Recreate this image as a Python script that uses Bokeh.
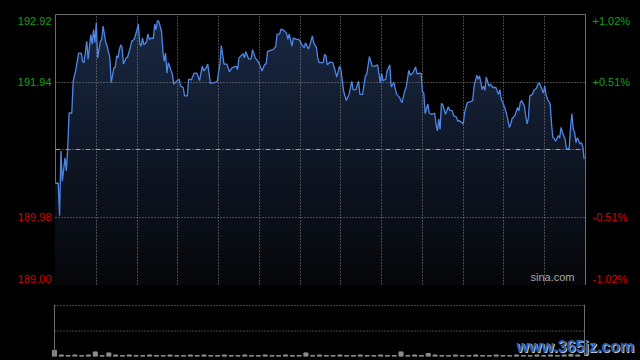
import numpy as np
from bokeh.plotting import figure
from bokeh.models import Range1d, Grid, FixedTicker, Span, ColumnDataSource
from bokeh.layouts import column, row
from bokeh.core.properties import value
from bokeh.embed import file_html
from bokeh.resources import INLINE

# ---------------- data ----------------
session_len = 390  # minutes, 9:30-16:00
prev_close = 190.96
price_ticks = [192.92, 191.94, 189.98, 189.00]
price_labels = ["192.92", "191.94", "189.98", "189.00"]
pct_labels = ["+1.02%", "+0.51%", "-0.51%", "-1.02%"]
half_hours = [30, 60, 90, 120, 150, 180, 210, 240, 270, 300, 330, 360]

times = [0, 2, 3, 4, 5, 7, 8, 9, 10, 12, 13, 15, 17, 19, 20, 21, 23, 24, 26, 27,
         28, 29, 30, 31, 33, 34, 35, 37, 38, 40, 41, 43, 44, 45, 46, 47, 48, 49, 50, 52,
         53, 55, 56, 58, 59, 61, 62, 63, 64, 65, 67, 68, 69, 71, 72, 73, 74, 75, 76, 78,
         79, 80, 81, 82, 83, 84, 86, 87, 89, 91, 92, 94, 95, 97, 98, 100,
         102, 104, 106, 108, 109, 111, 112, 114, 117, 119, 121, 122, 124, 126, 128, 130,
         133, 134, 135, 138, 139, 140, 142, 143, 144, 145, 147, 149, 150, 152, 154, 155,
         156, 158, 160, 162, 163, 165, 166, 168, 170, 171, 172, 174, 175, 177, 179, 180,
         182, 183, 184, 186, 187, 189, 190, 192, 193, 194, 197, 198,
         199, 200, 202, 204, 205, 207, 209, 210, 212, 214, 216, 218, 219, 221, 223, 224,
         226, 228, 229, 231, 233, 235, 237, 239, 240, 241, 243, 244, 246, 247, 249, 251,
         253, 255, 257, 258, 260, 261, 263, 265, 266, 269, 270, 271, 272, 274, 275, 277,
         279, 280, 281, 282, 283, 284, 285, 287, 289, 290, 292, 293, 295, 296,
         297, 299, 300, 301, 303, 305, 307, 308, 310, 311, 312, 314, 315, 316, 317, 319,
         320, 322, 324, 326, 327, 328, 329, 331, 332, 334, 335, 336, 338, 340, 341, 342,
         343, 345, 346, 347, 348, 349, 351, 352, 354, 355, 356, 358, 359, 360, 361, 362,
         364, 365, 366, 367, 368, 370, 371, 372, 373, 375, 376, 378, 379, 380, 381, 382,
         383, 384, 386, 387, 388, 389]

prices = [190.47, 190.47, 190.00, 190.94, 190.50, 190.84, 190.65, 190.99, 191.49, 191.49,
          191.95, 192.12, 192.36, 192.36, 192.24, 192.22, 192.53, 192.27, 192.63, 192.49,
          192.70, 192.51, 192.80, 192.29, 192.53, 192.56, 192.75, 192.51, 192.46, 192.29,
          191.93, 192.15, 192.15, 192.32, 192.29, 192.41, 192.48, 192.44, 192.20, 192.29,
          192.30, 192.44, 192.53, 192.56, 192.63, 192.78, 192.49, 192.46, 192.58, 192.48,
          192.52, 192.64, 192.56, 192.58, 192.57, 192.78, 192.70, 192.83, 192.82, 192.68,
          192.39, 192.24, 192.36, 192.07, 192.22, 192.17, 192.05, 191.91, 191.95, 191.98,
          191.88, 191.86, 191.74, 191.74, 191.98, 191.97,
          192.07, 192.07, 191.96, 192.17, 192.10, 192.15, 192.20, 191.92, 191.93, 191.95,
          192.20, 192.47, 192.20, 192.20, 192.09, 192.15, 192.17, 192.12, 192.29, 192.35,
          192.29, 192.38, 192.28, 192.27, 192.28, 192.41, 192.29, 192.24, 192.20, 192.10,
          192.20, 192.20, 192.38, 192.40, 192.41, 192.45, 192.63, 192.64, 192.71, 192.69,
          192.65, 192.56, 192.64, 192.46, 192.58, 192.56, 192.56, 192.53, 192.46, 192.44,
          192.51, 192.42, 192.46, 192.61, 192.51, 192.44, 192.29, 192.22, 192.22, 192.34,
          192.32, 192.19, 192.23, 192.22, 192.16, 192.01, 192.17, 192.12, 191.81, 191.67,
          191.76, 191.95, 191.83, 191.83, 191.95, 191.76, 191.76, 192.03, 192.05, 192.31,
          192.17, 192.17, 192.19, 191.93, 192.07, 191.96, 191.98, 192.10, 192.19, 191.87,
          191.93, 191.76, 191.72, 191.64, 191.81, 191.86, 192.11, 192.04, 192.07, 192.16,
          192.06, 192.07, 191.80, 191.78, 191.48, 191.62, 191.49, 191.47, 191.49, 191.33,
          191.23, 191.40, 191.25, 191.63, 191.61, 191.47, 191.58, 191.53, 191.52, 191.45,
          191.43, 191.37,
          191.38, 191.35, 191.33, 191.49, 191.64, 191.65, 191.67, 191.88, 192.04, 191.98,
          192.03, 191.83, 191.88, 191.82, 192.01, 191.88, 191.91, 191.86, 191.86, 191.76,
          191.83, 191.69, 191.65, 191.54, 191.47, 191.28, 191.33, 191.41, 191.45, 191.57,
          191.52, 191.64, 191.67, 191.59, 191.45, 191.33, 191.42, 191.74, 191.76, 191.82,
          191.85, 191.91, 191.93, 191.83, 191.78, 191.88, 191.76, 191.69, 191.62, 191.33,
          191.13, 191.12, 191.08, 191.16, 191.13, 191.28, 191.21, 191.11, 190.96, 190.98,
          191.28, 191.48, 191.25, 191.21, 191.06, 191.13, 191.04, 191.06, 191.00, 190.82]

vol_times = list(range(0, 390, 5))
vols = [12, 3, 2, 3, 2, 3, 9, 2, 7, 3,
        2, 3, 2, 2, 3, 2, 2, 3, 2, 2,
        3, 2, 3, 2, 2, 3, 2, 2, 3, 2,
        2, 3, 2, 2, 3, 2, 2, 7, 2, 3,
        2, 2, 3, 2, 2, 3, 2, 2, 3, 2,
        2, 9, 2, 3, 2, 6, 3, 2, 2, 3,
        2, 2, 3, 2, 2, 3, 2, 2, 3, 2,
        2, 3, 2, 3, 2, 3, 4, 3]
vol_max = 100

# ---------------- styles ----------------
FONT = "Liberation Sans"
GREEN = "#12a312"
RED = "#d80000"
GRID_C = "#8a8a8a"
FRAME_C = "#6e6e6e"
BG = "#000000"

LEFT_W, FRAME_W, RIGHT_W = 54, 530, 56
TOP_H, MAIN_H = 14, 290

y_top, y_bot = price_ticks[0], price_ticks[-1]
common = dict(output_backend="svg", toolbar_location=None,
              x_axis_type=None, y_axis_type=None,
              background_fill_color=BG, border_fill_color=BG)

# ---------------- main price panel ----------------
p = figure(width=FRAME_W + 2, height=MAIN_H,
           x_range=Range1d(0, session_len), y_range=Range1d(y_bot, y_top),
           min_border_left=1, min_border_right=1, min_border_top=TOP_H, min_border_bottom=6,
           outline_line_color=FRAME_C, outline_line_width=1, **common)

def mix(c1, c2, t):
    a = [int(c1[i:i + 2], 16) for i in (1, 3, 5)]
    b = [int(c2[i:i + 2], 16) for i in (1, 3, 5)]
    return "#%02x%02x%02x" % tuple(int(round(a[k] + (b[k] - a[k]) * t)) for k in range(3))

pr = np.array(prices)
n_bands = 40
levels = np.linspace(y_top, y_bot, n_bands, endpoint=False)
for i, L in enumerate(levels):
    col = mix("#192843", "#06070a", i / (n_bands - 1))
    p.varea(x=times, y1=y_bot, y2=np.minimum(pr, L), fill_color=col, fill_alpha=1.0)

vg = Grid(dimension=0, ticker=FixedTicker(ticks=half_hours),
          grid_line_color=GRID_C, grid_line_dash="1 2", grid_line_width=1)
hg = Grid(dimension=1, ticker=FixedTicker(ticks=[price_ticks[1], price_ticks[2]]),
          grid_line_color=GRID_C, grid_line_dash="1 2", grid_line_width=1)
pcg = Grid(dimension=1, ticker=FixedTicker(ticks=[prev_close]),
           grid_line_color="#9c9c9c", grid_line_dash="5 2 1 2", grid_line_width=1)
for g in (vg, hg, pcg):
    g.level = "annotation"
    p.add_layout(g)

p.line(times, prices, line_color="#4f86e3", line_width=1.3, level="overlay")

p.text(x=[session_len], y=[y_bot], text=["sina.com"], x_offset=-11, y_offset=-2,
       text_align="right", text_baseline="bottom", text_font=value(FONT),
       text_font_size="11px", text_color="#a8a8a8")

# ---------------- side label panels ----------------
lab_colors = [GREEN if t > prev_close else RED for t in price_ticks]
lab_offs = [6, 0, 0, -6]
src = ColumnDataSource(dict(y=price_ticks, price=price_labels, pct=pct_labels,
                            color=lab_colors, off=lab_offs))

pl = figure(width=LEFT_W, height=MAIN_H, x_range=Range1d(0, LEFT_W),
            y_range=p.y_range, min_border_left=0, min_border_right=0,
            min_border_top=TOP_H, min_border_bottom=6, outline_line_color=None, **common)
pl.text(x=LEFT_W - 3, y="y", text="price", y_offset="off", source=src,
        text_align="right", text_baseline="middle", text_font=value(FONT),
        text_font_size="11px", text_color="color")

pr_fig = figure(width=RIGHT_W, height=MAIN_H, x_range=Range1d(0, RIGHT_W),
                y_range=p.y_range, min_border_left=0, min_border_right=0,
                min_border_top=TOP_H, min_border_bottom=6, outline_line_color=None, **common)
pr_fig.text(x=6, y="y", text="pct", y_offset="off", source=src,
            text_align="left", text_baseline="middle", text_font=value(FONT),
            text_font_size="11px", text_color="color")

# ---------------- volume panel ----------------
total_w = LEFT_W + FRAME_W + RIGHT_W
x_lo = -session_len * LEFT_W / FRAME_W
x_hi = session_len + session_len * RIGHT_W / FRAME_W
p2 = figure(width=total_w, height=68,
            x_range=Range1d(x_lo, x_hi), y_range=Range1d(0, vol_max * 1.02),
            min_border_left=0, min_border_right=0, min_border_top=14, min_border_bottom=2,
            outline_line_color=None, **common)
p2.xgrid.visible = False if p2.xgrid else None
gl = [vol_max / 2, vol_max]
p2.segment(x0=[0] * len(gl), x1=[session_len] * len(gl), y0=gl, y1=gl,
           line_color=GRID_C, line_dash="1 2", line_width=1)
p2.vbar(x=vol_times, top=vols, width=3, color="#8c8c8c")
p2.add_layout(Span(location=0, dimension="height", line_color=FRAME_C, line_width=1))
p2.add_layout(Span(location=session_len, dimension="height", line_color=FRAME_C, line_width=1))

wm_x = 340
p2.text(x=[wm_x], y=[0], text=["www.365jz.com"], x_offset=1, y_offset=-9,
        text_align="left", text_baseline="middle", text_font=value(FONT),
        text_font_style="bold", text_font_size="16px", text_color="#b8c4d4")
p2.text(x=[wm_x], y=[0], text=["www.365jz.com"], x_offset=0, y_offset=-10,
        text_align="left", text_baseline="middle", text_font=value(FONT),
        text_font_style="bold", text_font_size="16px", text_color="#2d5ea8")

layout = column(row(pl, p, pr_fig, spacing=0), p2, spacing=0)
html = file_html(layout, INLINE)
html = html.replace("</head>", "<style>html,body{background:#000000;}</style></head>", 1)
open("out.html", "w").write(html)
